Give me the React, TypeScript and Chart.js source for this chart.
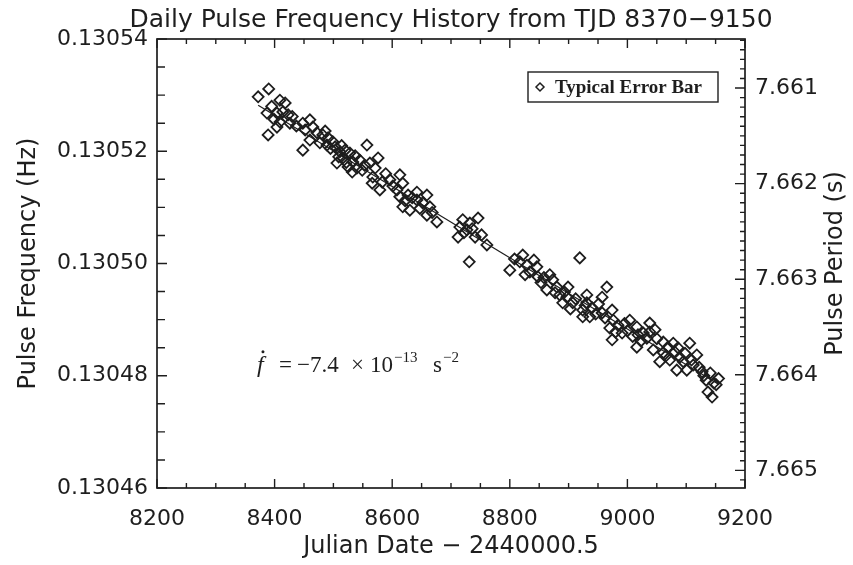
import React, { useEffect, useRef } from "react";
import { Chart, registerables } from "chart.js";

Chart.register(...registerables);

const TITLE = "Daily Pulse Frequency History from TJD 8370\u22129150";
const X_TITLE = "Julian Date \u2212 2440000.5";
const Y_TITLE = "Pulse Frequency (Hz)";
const Y2_TITLE = "Pulse Period (s)";
const LEGEND_TEXT = "Typical Error Bar";

const xTicks = [8200, 8400, 8600, 8800, 9000, 9200];
const freqTicks = [0.13046, 0.13048, 0.1305, 0.13052, 0.13054];
const periodTicks = [7.661, 7.662, 7.663, 7.664, 7.665];

const days = [
  8372, 8387, 8389, 8390, 8395, 8399, 8404, 8404, 8409, 8409, 8414, 8418, 8423, 8426, 8430, 8437,
  8448, 8448, 8452, 8460, 8460, 8465, 8472, 8477, 8482, 8486, 8489, 8491, 8495, 8499, 8503, 8506,
  8509, 8511, 8514, 8516, 8520, 8522, 8525, 8528, 8532, 8533, 8537, 8540, 8545, 8549, 8553, 8557,
  8562, 8566, 8567, 8571, 8576, 8579, 8583, 8589, 8596, 8601, 8608, 8613, 8613, 8618, 8618, 8622,
  8627, 8630, 8634, 8642, 8642, 8647, 8652, 8659, 8659, 8664, 8668, 8676, 8712, 8715, 8720, 8722,
  8727, 8731, 8732, 8736, 8741, 8746, 8752, 8761, 8800, 8808, 8817, 8822, 8826, 8829, 8834, 8841,
  8846, 8848, 8853, 8858, 8863, 8868, 8873, 8877, 8880, 8885, 8890, 8893, 8897, 8899, 8903, 8907,
  8912, 8919, 8924, 8924, 8928, 8931, 8931, 8936, 8940, 8946, 8951, 8957, 8957, 8962, 8965, 8970,
  8974, 8974, 8976, 8980, 8984, 8991, 8995, 9000, 9004, 9009, 9016, 9016, 9018, 9023, 9027, 9033,
  9038, 9038, 9044, 9047, 9050, 9055, 9061, 9061, 9066, 9069, 9072, 9078, 9081, 9084, 9086, 9089,
  9095, 9098, 9101, 9106, 9109, 9112, 9118, 9122, 9127, 9130, 9134, 9137, 9141, 9144, 9147, 9151,
  9155,
];

const freqs = [
  0.1305297, 0.1305268, 0.1305229, 0.1305311, 0.130528, 0.1305257, 0.1305268, 0.1305243, 0.1305291,
  0.1305252, 0.130527, 0.1305286, 0.1305265, 0.130525, 0.1305262, 0.1305245,
  0.130525, 0.1305202, 0.1305238, 0.1305256, 0.130522, 0.1305243, 0.1305233, 0.1305215, 0.1305229,
  0.1305236, 0.1305211, 0.1305224, 0.1305205, 0.1305217, 0.1305208, 0.1305179,
  0.130519, 0.1305199, 0.130521, 0.1305188, 0.1305202, 0.130518, 0.1305172, 0.1305197, 0.1305163,
  0.1305181, 0.1305192, 0.130517, 0.1305184, 0.1305166, 0.1305175, 0.1305211,
  0.1305179, 0.1305143, 0.1305154, 0.130517, 0.1305188, 0.1305131, 0.1305145, 0.130516, 0.1305149,
  0.1305138, 0.1305131, 0.1305158, 0.1305119, 0.1305143, 0.1305101, 0.1305112,
  0.1305122, 0.1305095, 0.1305117, 0.1305127, 0.1305113, 0.1305098, 0.1305108, 0.1305122, 0.1305086,
  0.1305101, 0.1305091, 0.1305074, 0.1305047, 0.1305065, 0.1305078, 0.1305055,
  0.130506, 0.1305003, 0.1305072, 0.1305062, 0.1305047, 0.1305081, 0.1305051, 0.1305033, 0.1304988,
  0.1305008, 0.1305003, 0.1305015, 0.130498, 0.1304997, 0.1304985, 0.1305006,
  0.1304994, 0.1304976, 0.1304966, 0.1304975, 0.1304953, 0.130498, 0.1304971, 0.1304948, 0.1304958,
  0.1304944, 0.130493, 0.1304949, 0.130494, 0.1304958, 0.1304919, 0.130493,
  0.1304937, 0.130501, 0.1304917, 0.1304905, 0.1304925, 0.1304944, 0.130493, 0.1304905, 0.1304921,
  0.130491, 0.1304928, 0.1304912, 0.130494, 0.1304903, 0.1304958, 0.1304885,
  0.1304917, 0.1304864, 0.1304899, 0.1304878, 0.130489, 0.1304876, 0.1304893, 0.130488, 0.1304899,
  0.130487, 0.1304887, 0.1304851, 0.1304873, 0.1304862, 0.1304876, 0.1304867,
  0.1304894, 0.1304878, 0.1304846, 0.1304882, 0.1304866, 0.1304825, 0.130486, 0.1304841, 0.1304836,
  0.1304851, 0.1304828, 0.1304858, 0.1304842, 0.130481, 0.130485, 0.1304833,
  0.1304825, 0.130484, 0.130481, 0.1304858, 0.1304828, 0.1304819, 0.1304837, 0.1304815, 0.1304807,
  0.13048, 0.1304792, 0.1304771, 0.1304805, 0.1304762, 0.1304787, 0.1304784,
  0.1304795,
];

const fitDays = [8372, 9155];
const fitFreqs = [0.1305282, 0.1304785];

const X_MIN = 8200;
const X_MAX = 9200;
const Y_MIN = 0.13046;
const Y_MAX = 0.13054;

// annotation anchor (data coordinates)
const NOTE_DAY = 8370;
const NOTE_FREQ = 0.1304807;

const INK = "#1e1e1e";
const SANS = "'DejaVu Sans', sans-serif";
const SERIF = "'Liberation Serif', 'DejaVu Serif', serif";

const decorPlugin = {
  id: "decor",
  afterDatasetsDraw(chart: any) {
    const { ctx, chartArea: a, scales } = chart;
    const xs = scales.x;
    const ys = scales.y;
    ctx.save();
    ctx.strokeStyle = INK;
    ctx.fillStyle = INK;
    ctx.lineWidth = 1.7;
    ctx.strokeRect(a.left, a.top, a.right - a.left, a.bottom - a.top);

    ctx.lineWidth = 1.4;
    ctx.beginPath();
    // x ticks (bottom & top), minor every 50
    for (let k = 0; k <= 20; k++) {
      const v = X_MIN + k * 50;
      const px = xs.getPixelForValue(v);
      const len = k % 4 === 0 ? 9 : 5;
      ctx.moveTo(px, a.bottom);
      ctx.lineTo(px, a.bottom - len);
      ctx.moveTo(px, a.top);
      ctx.lineTo(px, a.top + len);
    }
    // left ticks, minor every 0.000005
    for (let k = 0; k <= 16; k++) {
      const v = Y_MIN + k * 0.000005;
      const py = ys.getPixelForValue(v);
      const len = k % 4 === 0 ? 10 : 8;
      ctx.moveTo(a.left, py);
      ctx.lineTo(a.left + len, py);
    }
    // right ticks: period, minor every 0.0001 s
    for (let k = 76600; k <= 76660; k++) {
      const p = k / 10000;
      const f = 1 / p;
      if (f < Y_MIN || f > Y_MAX) continue;
      const py = ys.getPixelForValue(f);
      const len = k % 10 === 0 ? 10 : 5;
      ctx.moveTo(a.right, py);
      ctx.lineTo(a.right - len, py);
    }
    ctx.stroke();

    // legend box
    const bx = a.right - 217;
    const by = a.top + 33;
    const bw = 190;
    const bh = 30;
    ctx.fillStyle = "#fff";
    ctx.fillRect(bx, by, bw, bh);
    ctx.lineWidth = 1.4;
    ctx.strokeRect(bx, by, bw, bh);
    const dx = bx + 12;
    const dy = by + bh / 2;
    ctx.beginPath();
    ctx.moveTo(dx, dy - 4);
    ctx.lineTo(dx + 4, dy);
    ctx.lineTo(dx, dy + 4);
    ctx.lineTo(dx - 4, dy);
    ctx.closePath();
    ctx.lineWidth = 1.5;
    ctx.stroke();
    ctx.fillStyle = INK;
    ctx.font = `bold 19px ${SERIF}`;
    ctx.textAlign = "left";
    ctx.textBaseline = "alphabetic";
    ctx.fillText(LEGEND_TEXT, bx + 27, dy + 6);

    // f-dot annotation
    const nx = xs.getPixelForValue(NOTE_DAY);
    const ny = ys.getPixelForValue(NOTE_FREQ);
    ctx.font = `italic 24px ${SERIF}`;
    ctx.fillText("f", nx, ny);
    ctx.beginPath();
    ctx.arc(nx + 6, ny - 20, 1.5, 0, Math.PI * 2);
    ctx.fill();
    ctx.font = `23px ${SERIF}`;
    ctx.fillText("=", nx + 22, ny);
    ctx.fillText("\u22127.4", nx + 40, ny);
    ctx.fillText("\u00d7", nx + 94, ny);
    ctx.fillText("10", nx + 113, ny);
    ctx.font = `15px ${SERIF}`;
    ctx.fillText("\u221213", nx + 137, ny - 10);
    ctx.font = `23px ${SERIF}`;
    ctx.fillText("s", nx + 176, ny);
    ctx.font = `15px ${SERIF}`;
    ctx.fillText("\u22122", nx + 186, ny - 10);

    // main title
    ctx.font = `25px ${SANS}`;
    ctx.textAlign = "center";
    ctx.textBaseline = "middle";
    ctx.fillText(TITLE, (a.left + a.right) / 2, 20);

    // right axis title (reads bottom to top)
    ctx.font = `24px ${SANS}`;
    ctx.translate(836, (a.top + a.bottom) / 2);
    ctx.rotate(-Math.PI / 2);
    ctx.fillText(Y2_TITLE, 0, 0);
    ctx.restore();
  },
};

export default function App() {
  const ref = useRef<HTMLCanvasElement>(null);
  useEffect(() => {
    const canvas = ref.current;
    if (!canvas) return;
    const points = days.map((d, i) => ({ x: d, y: freqs[i] }));
    const fit = fitDays.map((d, i) => ({ x: d, y: fitFreqs[i] }));
    const tickFont = { family: SANS, size: 22 };
    const titleFont = { family: SANS, size: 24 };
    const chart = new Chart(canvas, {
      type: "scatter",
      data: {
        datasets: [
          {
            data: points,
            pointStyle: "rectRot",
            pointRadius: 5.5,
            pointBorderWidth: 1.8,
            borderColor: INK,
            backgroundColor: "rgba(0,0,0,0)",
            showLine: false,
          },
          {
            data: fit,
            showLine: true,
            pointRadius: 0,
            borderColor: INK,
            borderWidth: 1.2,
            fill: false,
          },
        ],
      },
      options: {
        responsive: false,
        animation: false,
        events: [],
        layout: { padding: { top: 39, left: 0, right: 0, bottom: 0 } },
        plugins: { legend: { display: false }, tooltip: { enabled: false }, title: { display: false } },
        scales: {
          x: {
            type: "linear",
            position: "bottom",
            min: X_MIN,
            max: X_MAX,
            afterBuildTicks: (s: any) => {
              s.ticks = xTicks.map((v) => ({ value: v }));
            },
            afterFit: (s: any) => {
              s.height = 77;
            },
            grid: { display: false, drawTicks: false },
            border: { display: false },
            ticks: { font: tickFont, color: INK, padding: 18, autoSkip: false, maxRotation: 0, callback: (v: any) => String(v) },
            title: { display: true, text: X_TITLE, font: titleFont, color: INK, padding: { top: 0, bottom: 4 } },
          },
          y: {
            type: "linear",
            position: "left",
            min: Y_MIN,
            max: Y_MAX,
            afterBuildTicks: (s: any) => {
              s.ticks = freqTicks.map((v) => ({ value: v }));
            },
            afterFit: (s: any) => {
              s.width = 157;
            },
            grid: { display: false, drawTicks: false },
            border: { display: false },
            ticks: { font: tickFont, color: INK, padding: 9, autoSkip: false, callback: (v: any) => Number(v).toFixed(5) },
            title: { display: true, text: Y_TITLE, font: titleFont, color: INK, padding: { top: 14, bottom: 0 } },
          },
          y2: {
            type: "linear",
            position: "right",
            min: Y_MIN,
            max: Y_MAX,
            afterBuildTicks: (s: any) => {
              s.ticks = periodTicks.map((p) => ({ value: 1 / p }));
            },
            afterFit: (s: any) => {
              s.width = 108;
            },
            grid: { display: false, drawTicks: false },
            border: { display: false },
            ticks: { font: tickFont, color: INK, padding: 10, autoSkip: false, callback: (v: any) => (1 / Number(v)).toFixed(3) },
          },
        },
      },
      plugins: [decorPlugin],
    } as any);
    return () => chart.destroy();
  }, []);
  return (
    <div style={{ position: "absolute", left: 0, top: 0, width: 853, height: 565, background: "#fff" }}>
      <canvas ref={ref} width={853} height={565} style={{ display: "block", width: 853, height: 565 }} />
    </div>
  );
}
